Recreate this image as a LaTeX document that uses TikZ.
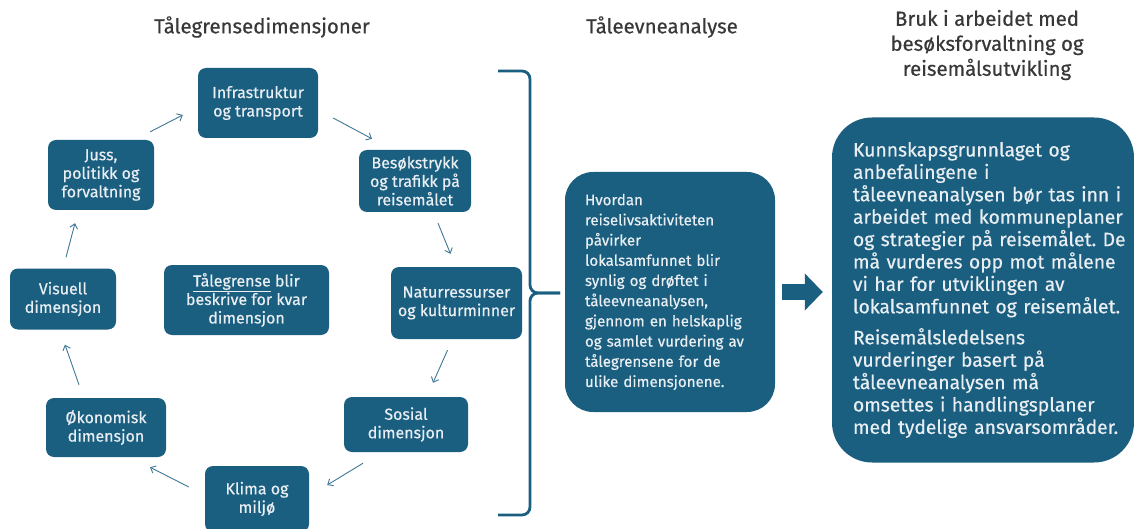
\documentclass[tikz,border=0pt]{standalone}
\usepackage{fontspec}
\setmainfont{Fira Sans}[FakeBold=0.5]
\usetikzlibrary{arrows.meta,calc}
\definecolor{boxblue}{HTML}{1A5E80}
\definecolor{boxtext}{HTML}{E8EEF2}
\definecolor{titlegray}{HTML}{383838}
\definecolor{arrowblue}{HTML}{3F7795}
\newcommand\oneline[1]{\mbox{#1}}
\frenchspacing
\tikzset{
  dimbox/.style={fill=boxblue, text=boxtext, rounded corners=8pt, align=center,
    font=\fontsize{16}{18.5}\selectfont, inner sep=0pt},
  bigbox/.style={fill=boxblue, text=boxtext, align=left, inner sep=0pt},
  titletext/.style={text=titlegray, align=center, font=\fontsize{20.4}{25}\selectfont},
  conn/.style={draw=arrowblue, line width=0.9pt, -{Straight Barb[length=4.5pt,width=8pt]}},
  brace/.style={draw=boxblue, line width=2.8pt, rounded corners=8pt},
  blockarrow/.style={draw=boxblue, line width=16pt, -{Triangle[length=18pt,width=36pt]}}
}
\begin{document}
\begin{tikzpicture}[x=1pt,y=-1pt]
\useasboundingbox (0,0) rectangle (1134,529);
% titles
\node[titletext] (t1) at (262,27) {Tålegrensedimensjoner};
\node[titletext] (t2) at (662,27) {Tåleevneanalyse};
\node[titletext] (t3) at (987,45) {Bruk i arbeidet med\\besøksforvaltning og\\reisemålsutvikling};
% dimension boxes
\node[dimbox, minimum width=120pt, minimum height=70pt] (infra) at (258,103) {Infrastruktur\\og transport};
\node[dimbox, minimum width=106pt, minimum height=70pt] (juss) at (101,175) {Juss,\\politikk og\\forvaltning};
\node[dimbox, minimum width=112pt, minimum height=62pt] (besok) at (415,181) {Besøkstrykk\\og trafikk på\\reisemålet};
\node[dimbox, minimum width=131pt, minimum height=72pt] (natur) at (456.5,303) {Naturressurser\\og kulturminner};
\node[dimbox, minimum width=124pt, minimum height=55pt] (sosial) at (406,424.5) {Sosial\\dimensjon};
\node[dimbox, minimum width=104pt, minimum height=66pt] (klima) at (257,499) {Klima og\\miljø};
\node[dimbox, minimum width=120pt, minimum height=59pt] (okonom) at (106,427.5) {Økonomisk\\dimensjon};
\node[dimbox, minimum width=106pt, minimum height=61pt] (visuell) at (63,299) {Visuell\\dimensjon};
\node[dimbox, minimum width=165pt, minimum height=70pt] (tale) at (246.5,300) {\underline{Tålegrense} blir\\beskrive for kvar\\dimensjon};
% cycle connectors
\draw[conn] ($(juss.north east)+(-4,-8)$) -- ($(infra.west)+(-15,12)$);
\draw[conn] ($(infra.east)+(15,15)$) -- ($(besok.north)+(-43,-11)$);
\draw[conn] ($(besok.south)+(23,11)$) -- ($(natur.north)+(-6,-13)$);
\draw[conn] ($(natur.south)+(-9,11)$) -- ($(sosial.north)+(27,-14)$);
\draw[conn] ($(sosial.south)+(-43,11)$) -- ($(klima.east)+(18,-14)$);
\draw[conn] ($(klima.west)+(-16,-12)$) -- ($(okonom.south)+(44,10)$);
\draw[conn] ($(okonom.north)+(-27,-13)$) -- ($(visuell.south)+(2,15)$);
\draw[conn] ($(visuell.north)+(3,-11)$) -- ($(juss.south)+(-26,13)$);
% brace
\coordinate (bt) at (498,71);
\coordinate (bb) at (498,515);
\coordinate (bm) at (560,293);
\draw[brace] (bt) -- (530,71) -- (530,293) -- (bm);
\draw[brace] (bb) -- (530,515) -- (530,293) -- (bm);
% middle box
\node[bigbox, rounded corners=28pt, minimum width=210pt, minimum height=240pt, text width=170pt,
  font=\fontsize{15.1}{20.2}\selectfont] (mid) at (670,292)
  {\oneline{Hvordan}\\\oneline{reiselivsaktiviteten}\\\oneline{påvirker}\\\oneline{lokalsamfunnet blir}\\\oneline{synlig og drøftet i}\\\oneline{tåleevneanalysen,}\\\oneline{gjennom en helskaplig}\\\oneline{og samlet vurdering av}\\\oneline{tålegrensene for de}\\\oneline{ulike dimensjonene.}};
% right box
\node[bigbox, rounded corners=40pt, minimum width=302pt, minimum height=345pt, text width=260pt,
  font=\fontsize{19.3}{22.4}\selectfont] (right) at (983,290)
  {\oneline{Kunnskapsgrunnlaget og}\\\oneline{anbefalingene i}\\\oneline{tåleevneanalysen bør tas inn i}\\\oneline{arbeidet med kommuneplaner}\\\oneline{og strategier på reisemålet. De}\\\oneline{må vurderes opp mot målene}\\\oneline{vi har for utviklingen av}\\\oneline{lokalsamfunnet og reisemålet.}\\[8.6pt]\oneline{Reisemålsledelsens}\\\oneline{vurderinger basert på}\\\oneline{tåleevneanalysen må}\\\oneline{omsettes i handlingsplaner}\\\oneline{med tydelige ansvarsområder.}};
% block arrow
\draw[blockarrow, shorten <=7pt, shorten >=9pt] (mid.east) -- (mid.east -| right.west);
\end{tikzpicture}
\end{document}
